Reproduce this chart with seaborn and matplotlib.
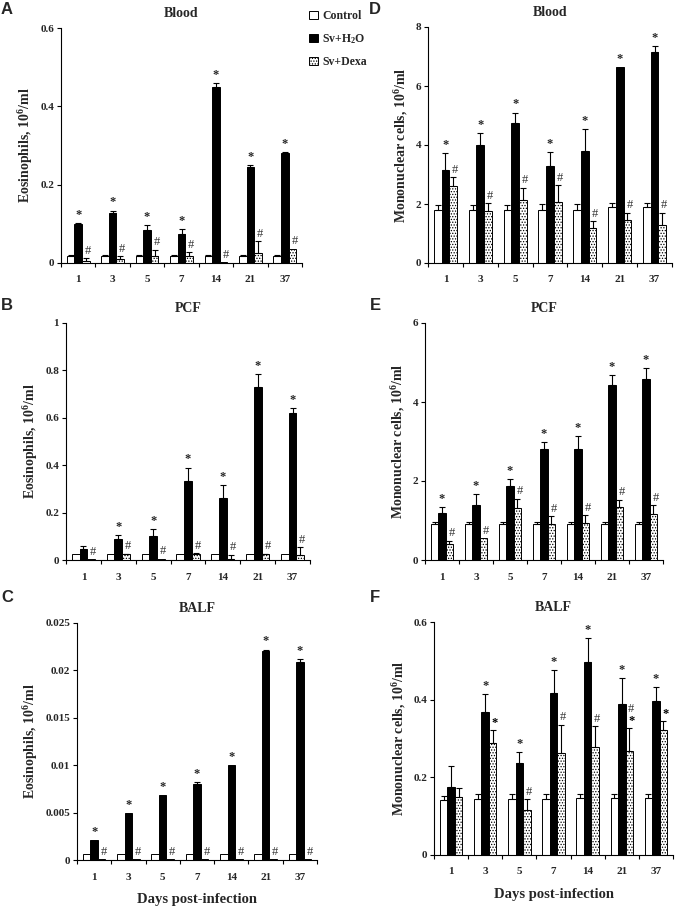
import numpy as np
import pandas as pd
import matplotlib
matplotlib.use("Agg")
import matplotlib.pyplot as plt
from matplotlib.patches import Patch
import seaborn as sns

# ---------------- data ----------------
days = ["1", "3", "5", "7", "14", "21", "37"]
groups = ["Control", "Sv+H$_2$O", "Sv+Dexa"]

# A  Blood eosinophils
a_ctrl = [0.018, 0.018, 0.018, 0.018, 0.018, 0.018, 0.018]
a_ctrl_err = [0.002, 0.002, 0.002, 0.002, 0.002, 0.002, 0.002]
a_sv = [0.100, 0.128, 0.085, 0.075, 0.450, 0.246, 0.281]
a_sv_err = [0.003, 0.006, 0.012, 0.012, 0.009, 0.005, 0.002]
a_dx = [0.006, 0.010, 0.018, 0.018, 0.002, 0.025, 0.037]
a_dx_err = [0.006, 0.008, 0.016, 0.010, 0.0, 0.030, 0.0]
a_star = [True, True, True, True, True, True, True]
a_marks = ["#", "#", "#", "#", "#", "#", "#"]
a_yticks = [0, 0.2, 0.4, 0.6]
a_yticklabels = ["0", "0.2", "0.4", "0.6"]

# D  Blood mononuclear cells
d_ctrl = [1.80, 1.80, 1.80, 1.80, 1.80, 1.90, 1.90]
d_ctrl_err = [0.17, 0.17, 0.17, 0.20, 0.20, 0.15, 0.15]
d_sv = [3.15, 4.00, 4.75, 3.30, 3.80, 6.63, 7.15]
d_sv_err = [0.58, 0.40, 0.35, 0.45, 0.75, 0.0, 0.22]
d_dx = [2.60, 1.75, 2.13, 2.08, 1.17, 1.45, 1.30]
d_dx_err = [0.30, 0.27, 0.42, 0.55, 0.25, 0.25, 0.40]
d_star = [True, True, True, True, True, True, True]
d_marks = ["#", "#", "#", "#", "#", "#", "#"]
d_yticks = [0, 2, 4, 6, 8]
d_yticklabels = ["0", "2", "4", "6", "8"]

# B  PCF eosinophils
b_ctrl = [0.025, 0.025, 0.025, 0.025, 0.025, 0.025, 0.025]
b_ctrl_err = [0.0, 0.0, 0.0, 0.0, 0.0, 0.0, 0.0]
b_sv = [0.045, 0.090, 0.100, 0.332, 0.263, 0.732, 0.620]
b_sv_err = [0.015, 0.015, 0.030, 0.058, 0.053, 0.052, 0.022]
b_dx = [0.003, 0.025, 0.005, 0.025, 0.004, 0.025, 0.020]
b_dx_err = [0.0, 0.002, 0.0, 0.003, 0.018, 0.002, 0.035]
b_star = [False, True, True, True, True, True, True]
b_marks = ["#", "#", "#", "#", "#", "#", "#"]
b_yticks = [0, 0.2, 0.4, 0.6, 0.8, 1.0]
b_yticklabels = ["0", "0.2", "0.4", "0.6", "0.8", "1"]

# E  PCF mononuclear cells
e_ctrl = [0.90, 0.90, 0.90, 0.90, 0.90, 0.90, 0.90]
e_ctrl_err = [0.07, 0.07, 0.07, 0.07, 0.07, 0.07, 0.07]
e_sv = [1.20, 1.40, 1.88, 2.80, 2.80, 4.42, 4.57]
e_sv_err = [0.13, 0.27, 0.17, 0.18, 0.33, 0.27, 0.29]
e_dx = [0.40, 0.55, 1.31, 0.91, 0.94, 1.33, 1.17]
e_dx_err = [0.09, 0.0, 0.24, 0.20, 0.20, 0.20, 0.21]
e_star = [True, True, True, True, True, True, True]
e_marks = ["#", "#", "#", "#", "#", "#", "#"]
e_yticks = [0, 2, 4, 6]
e_yticklabels = ["0", "2", "4", "6"]

# C  BALF eosinophils
c_ctrl = [0.0006, 0.0006, 0.0006, 0.0006, 0.0006, 0.0006, 0.0006]
c_ctrl_err = [0.0, 0.0, 0.0, 0.0, 0.0, 0.0, 0.0]
c_sv = [0.0021, 0.0050, 0.0069, 0.0080, 0.0100, 0.0220, 0.0209]
c_sv_err = [0.0, 0.0, 0.0, 0.0002, 0.0, 0.0002, 0.0003]
c_dx = [0.0001, 0.0001, 0.0001, 0.0001, 0.0001, 0.0001, 0.0001]
c_dx_err = [0.0, 0.0, 0.0, 0.0, 0.0, 0.0, 0.0]
c_star = [True, True, True, True, True, True, True]
c_marks = ["#", "#", "#", "#", "#", "#", "#"]
c_yticks = [0, 0.005, 0.01, 0.015, 0.02, 0.025]
c_yticklabels = ["0", "0.005", "0.01", "0.015", "0.02", "0.025"]

# F  BALF mononuclear cells
f_ctrl = [0.141, 0.145, 0.145, 0.145, 0.147, 0.147, 0.148]
f_ctrl_err = [0.011, 0.011, 0.011, 0.011, 0.009, 0.011, 0.010]
f_sv = [0.176, 0.369, 0.238, 0.417, 0.497, 0.390, 0.396]
f_sv_err = [0.054, 0.045, 0.028, 0.059, 0.062, 0.066, 0.036]
f_dx = [0.149, 0.289, 0.116, 0.263, 0.279, 0.268, 0.321]
f_dx_err = [0.024, 0.032, 0.028, 0.073, 0.053, 0.058, 0.024]
f_star = [False, True, True, True, True, True, True]
f_marks = ["", "*", "#", "#", "#", "*#", "*"]
f_yticks = [0, 0.2, 0.4, 0.6]
f_yticklabels = ["0", "0.2", "0.4", "0.6"]

eos_label = "Eosinophils, 10$^6$/ml"
mono_label = "Mononuclear cells, 10$^6$/ml"
xlabel_text = "Days post-infection"

# ---------------- style ----------------
sns.set_theme(style="ticks")
plt.rcParams["font.family"] = ["Liberation Serif", "DejaVu Serif"]
plt.rcParams["font.weight"] = "bold"
plt.rcParams["mathtext.fontset"] = "custom"
plt.rcParams["mathtext.rm"] = "Liberation Serif:bold"
plt.rcParams["mathtext.it"] = "Liberation Serif:bold"
plt.rcParams["mathtext.bf"] = "Liberation Serif:bold"
plt.rcParams["hatch.linewidth"] = 0.6
plt.rcParams["hatch.color"] = "black"

W, H = 675, 914
fig = plt.figure(figsize=(W / 100, H / 100), dpi=100)


def box(l, t, r, b):
    return [l / W, 1 - b / H, (r - l) / W, (b - t) / H]


styles = [
    dict(facecolor="white", hatch=None),
    dict(facecolor="black", hatch=None),
    dict(facecolor="white", hatch="......"),
]


def panel(rect, vals, errs, star, marks, ylim, yticks, yticklabels, ylabel, title,
          letter, letter_xy, xlabel=None):
    ax = fig.add_axes(box(*rect))
    df = pd.DataFrame({
        "day": days * 3,
        "group": np.repeat(groups, len(days)),
        "value": vals[0] + vals[1] + vals[2],
    })
    sns.barplot(data=df, x="day", y="value", hue="group", order=days,
                hue_order=groups, errorbar=None, width=0.66, ax=ax,
                palette=["white", "black", "white"], saturation=1,
                legend=False)
    bar_conts = list(ax.containers)
    tops = []
    for ci, cont in enumerate(bar_conts):
        xs, hs = [], []
        for p in cont.patches:
            p.set_facecolor(styles[ci]["facecolor"])
            p.set_edgecolor("black")
            p.set_linewidth(0.7)
            if styles[ci]["hatch"]:
                p.set_hatch(styles[ci]["hatch"])
            xs.append(p.get_x() + p.get_width() / 2)
            hs.append(p.get_height())
        xs = np.array(xs)
        hs = np.array(hs)
        e = np.array(errs[ci])
        tops.append((xs, hs + e))
        m = e > 0
        if m.any():
            ax.errorbar(xs[m], hs[m], yerr=[np.zeros(m.sum()), e[m]], fmt="none",
                        ecolor="black", elinewidth=0.8, capsize=2.3,
                        capthick=0.8)
    # significance marks
    xs, ts = tops[1]
    for i, s in enumerate(star):
        if s:
            ax.annotate("*", (xs[i], ts[i]), xytext=(0, 1.5),
                        textcoords="offset points", ha="center", va="bottom",
                        fontsize=9, fontweight="bold")
    xs, ts = tops[2]
    for i, mk in enumerate(marks):
        off = 1.0
        for ch in mk:
            ax.annotate(ch, (xs[i], ts[i]), xytext=(1.5, off),
                        textcoords="offset points", ha="center", va="bottom",
                        fontsize=9, fontweight="normal" if ch == "#" else "bold",
                        color="#333333" if ch == "#" else "black")
            off += 8.5
    ax.set_xlim(-0.5, len(days) - 0.5)
    ax.set_ylim(*ylim)
    ax.set_yticks(yticks)
    ax.set_yticklabels(yticklabels, fontsize=8, fontweight="bold")
    ax.set_xticks(range(len(days)))
    ax.set_xticklabels(days, fontsize=8, fontweight="bold")
    ax.set_xticks(np.arange(-0.5, len(days)), minor=True)
    ax.tick_params(axis="x", which="major", length=0, pad=9)
    ax.tick_params(axis="x", which="minor", length=3, width=0.8,
                   direction="out", color="black")
    ax.tick_params(axis="y", length=3, width=0.8, direction="out",
                   color="black", pad=2)
    for sp in ["top", "right"]:
        ax.spines[sp].set_visible(False)
    for sp in ["left", "bottom"]:
        ax.spines[sp].set_color("black")
        ax.spines[sp].set_linewidth(0.8)
    ax.set_ylabel(ylabel, fontsize=10, fontweight="bold", labelpad=4)
    if xlabel:
        ax.set_xlabel(xlabel, fontsize=10.5, fontweight="bold", labelpad=8)
    else:
        ax.set_xlabel("")
    ax.set_title(title, fontsize=10, fontweight="bold", pad=8)
    fig.text(letter_xy[0] / W, 1 - letter_xy[1] / H, letter,
             family=["Liberation Sans", "DejaVu Sans"], fontweight="bold",
             fontsize=12, ha="left", va="center")
    return ax


panel((61, 28, 302, 263), (a_ctrl, a_sv, a_dx), (a_ctrl_err, a_sv_err, a_dx_err),
      a_star, a_marks, (0, 0.6), a_yticks, a_yticklabels, eos_label, "Blood",
      "A", (1, 10))
panel((428, 27, 672, 263), (d_ctrl, d_sv, d_dx), (d_ctrl_err, d_sv_err, d_dx_err),
      d_star, d_marks, (0, 8), d_yticks, d_yticklabels, mono_label, "Blood",
      "D", (369, 10))
panel((66, 323, 310, 560), (b_ctrl, b_sv, b_dx), (b_ctrl_err, b_sv_err, b_dx_err),
      b_star, b_marks, (0, 1), b_yticks, b_yticklabels, eos_label, "PCF",
      "B", (1, 305))
panel((425, 323, 663, 560), (e_ctrl, e_sv, e_dx), (e_ctrl_err, e_sv_err, e_dx_err),
      e_star, e_marks, (0, 6), e_yticks, e_yticklabels, mono_label, "PCF",
      "E", (370, 305))
panel((77, 623, 317, 860), (c_ctrl, c_sv, c_dx), (c_ctrl_err, c_sv_err, c_dx_err),
      c_star, c_marks, (0, 0.025), c_yticks, c_yticklabels, eos_label, "BALF",
      "C", (1, 598), xlabel=xlabel_text)
panel((434, 622, 673, 855), (f_ctrl, f_sv, f_dx), (f_ctrl_err, f_sv_err, f_dx_err),
      f_star, f_marks, (0, 0.6), f_yticks, f_yticklabels, mono_label, "BALF",
      "F", (370, 598), xlabel=xlabel_text)

handles = [Patch(facecolor=s["facecolor"], edgecolor="black", linewidth=0.7,
                 hatch=s["hatch"]) for s in styles]
fig.legend(handles, groups, loc="upper left", bbox_to_anchor=(301 / W, 1 - 2 / H),
           frameon=False, fontsize=8.5, handlelength=0.7, handleheight=0.7,
           handletextpad=0.4, labelspacing=0.85, borderpad=0.2)

fig.savefig("out.png", dpi=100)
